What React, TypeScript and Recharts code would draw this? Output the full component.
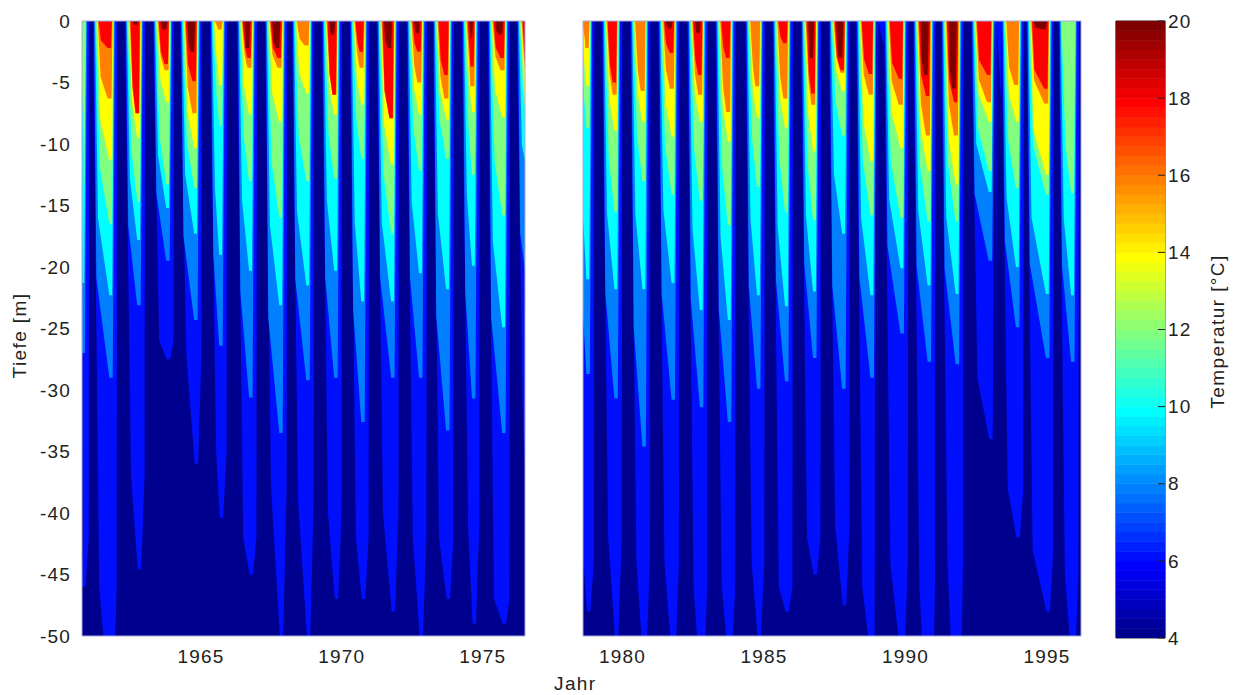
import { Area, Bar, BarChart, ComposedChart, ReferenceArea, XAxis, YAxis } from 'recharts'

// warm season start / end at the surface, one entry per summer
const riseA = [1960.6, 1961.17, 1962.3, 1963.3, 1964.26, 1965.32, 1966.28, 1967.27, 1968.23, 1969.29, 1970.28, 1971.24, 1972.3, 1973.23, 1974.26, 1975.18, 1976.21]
const fallA = [1960.96, 1961.95, 1962.94, 1963.97, 1964.96, 1965.85, 1966.91, 1967.98, 1968.94, 1969.93, 1970.89, 1971.95, 1972.94, 1973.9, 1974.82, 1975.89, 1976.92]
const riseB = [1978.4, 1979.27, 1980.27, 1981.26, 1982.29, 1983.28, 1984.34, 1985.3, 1986.3, 1987.29, 1988.25, 1989.24, 1990.27, 1991.26, 1992.32, 1993.39, 1994.27, 1995.41]
const fallB = [1978.92, 1979.91, 1980.9, 1981.93, 1982.93, 1983.92, 1984.95, 1985.94, 1986.93, 1987.96, 1988.96, 1990.02, 1990.98, 1991.97, 1993.14, 1994.1, 1995.16, 1996.05]

// deepest reach (m) of each temperature level per summer, 1960-1976
const shelf6A = [-42, -46, -37, -26, -27, -35, -42, -38, -39, -40, -42, -40, -42, -42, -41, -47, -33]
const tip6A = [-46, -56, -44.6, -27.5, -36, -40.4, -45, -50, -50, -47, -47, -48, -50, -47, -49, -49, -47]
const tip8A = [-27, -29, -23.1, -19.5, -24.3, -26.4, -30.6, -33.5, -29.2, -29, -32.6, -29, -29, -33.3, -30.7, -33.5, -24]
const tip10A = [-21.3, -22.3, -17.8, -15.2, -17.3, -19, -20.3, -23.1, -21.5, -20.3, -22.8, -22.8, -20.5, -21.8, -19.9, -24.9, -14]
const tip12A = [-13.3, -16.5, -14.7, -13.3, -13.6, -8.5, -13, -16, -13, -12.8, -11.2, -17.3, -12.2, -11.2, -12.5, -15.8, -9]
const tip14A = [0, -11.3, -9.5, -6.6, -10.3, -5.2, -7.6, -8.2, -5.9, -7.6, -6.8, -11.7, -7.6, -8, -7.4, -7.8, -8]
const tip16A = [0, -6.3, -7.5, -4, -7.5, -0.7, -3.8, -3.8, -2, -6, -3.8, -7.9, -5, -6.3, -5.3, -4, -5]
const tip18A = [0, -2.2, -7.5, -3.5, -4.9, 0, -3, -3, 0, -6, -2.5, -7.9, -2.5, -4.4, -3.7, -3, -4.4]
const tip20A = [0, 0, -0.3, -0.7, -2.5, 0, -2.2, -2.2, 0, -1.1, 0, -2.2, -1, 0, -1.4, -1.1, 0]

// same levels, 1978-1996
const shelf6B = [-44, -42, -44, -44, -46, -46, -44, -46, -42, -41, -46, -44, -46, -44, -29, -38, -43, -45]
const tip6B = [-48, -50, -52, -52, -54, -52, -50, -48, -45, -47.5, -52, -52, -60, -60, -34, -42, -48, -52]
const tip8B = [-28.7, -30.7, -34.6, -30.8, -31.4, -32.6, -29.9, -29.3, -27.4, -29.9, -29, -25.4, -27.7, -27.9, -19.5, -24.9, -27.4, -27.7]
const tip10B = [-21, -21.8, -21.8, -21.3, -23.5, -24.3, -22.3, -23.2, -22, -17.3, -22.3, -20.1, -21.5, -22.2, -13.9, -20, -22.2, -22.3]
const tip12B = [-8.7, -15.5, -13, -14.1, -14.6, -16.6, -13.5, -15.5, -16.2, -9.3, -15.8, -16, -16.3, -16.3, -12.2, -13.6, -14.1, -14]
const tip14B = [-5.3, -8.9, -8.2, -9.4, -8.2, -9.8, -7.9, -8.7, -10.6, -5.7, -11.4, -10.3, -12.2, -13.3, -8.2, -8.2, -12.5, 0]
const tip16B = [-2.2, -6, -5.7, -5.5, -6, -7.4, -5.3, -6.3, -6.8, -4.2, -6, -6.8, -9.3, -9.3, -6.6, -5.2, -6.7, 0]
const tip18B = [0, -5, 0, -2.6, -4.4, -3, 0, -1.8, -5.9, -4, -4.3, -4.7, -6.1, -6.6, -4.4, 0, -5.5, 0]
const tip20B = [0, 0, 0, -0.6, -1, 0, 0, 0, -3, -3, 0, 0, -4.4, -5.5, 0, 0, -0.7, 0]

// mild winters: the surface stays above the coldest level
const winterYears = [1988.98, 1989.0, 1989.22, 1989.24, 1993.16, 1993.18, 1993.37, 1993.39]
const winterDepths = [0, -2, -2, 0, 0, -6.3, -6.3, 0]

// level start after the rise, shoulder after the rise, tip start, tip end and end before the fall (years)
const edges8 = [0.04, 0.12, -0.2, -0.08, 0]
const edges10 = [0.07, 0.18, -0.2, -0.1, -0.03]
const edges12 = [0.1, 0.24, -0.2, -0.1, -0.05]
const edges14 = [0.14, 0.26, -0.2, -0.1, -0.07]
const edges16 = [0.17, 0.27, -0.26, -0.12, -0.09]
const edges18 = [0.2, 0.28, -0.26, -0.14, -0.11]
const edges20 = [0.26, 0.3, -0.32, -0.2, -0.16]

const depthTicks = [0, -5, -10, -15, -20, -25, -30, -35, -40, -45, -50]
const yearTicksA = [1965, 1970, 1975]
const yearTicksB = [1980, 1985, 1990, 1995]
const tempTicks = [4, 6, 8, 10, 12, 14, 16, 18, 20]

const ramp = ['10', '20', '30', '40', '50', '60', '70', '80', '8f', '9f', 'af', 'bf', 'cf', 'df', 'ef', 'ff']
const down = [...ramp].reverse()
const jet = [
  ...ramp.slice(8).map(b => `#0000${b}`),
  ...ramp.map(g => `#00${g}ff`),
  ...ramp.map((r, i) => `#${r}ff${down[i + 1] ?? '00'}`),
  ...ramp.map((_, i) => `#ff${down[i + 1] ?? '00'}00`),
  ...down.slice(1, 9).map(r => `#${r}0000`),
]

const NAVY = '#00008f'
const FONT = '"Liberation Sans", Arial, sans-serif'
const TEXT = '#222'
const tickStyle = { fill: TEXT, fontSize: 19, fontFamily: FONT, letterSpacing: 1.2 }
const labelStyle = { fill: TEXT, fontSize: 19, fontFamily: FONT, letterSpacing: 1.4, textAnchor: 'middle' }

function wedges(rise: number[], fall: number[], tips: number[], edges: number[]) {
  return tips.flatMap((depth, i) => {
    if (depth === 0) return []
    const start = rise[i] + edges[0]
    const shoulder = rise[i] + edges[1]
    const tipA = Math.max(shoulder + 0.01, fall[i] + edges[2])
    const tipB = Math.max(tipA + 0.01, fall[i] + edges[3])
    return [
      { year: start, depth: 0 },
      { year: shoulder, depth: depth * 0.72 },
      { year: tipA, depth },
      { year: tipB, depth },
      { year: Math.max(tipB + 0.01, fall[i] + edges[4]), depth: 0 },
    ]
  })
}

// the 6 degree level has a wide body (shelf) and a thin tail below it
function bodyWedges(rise: number[], fall: number[], shelf: number[], tips: number[]) {
  return tips.flatMap((depth, i) => [
    { year: rise[i], depth: 0 },
    { year: rise[i] + 0.22, depth: shelf[i] },
    { year: fall[i] - 0.18, depth },
    { year: fall[i] - 0.06, depth },
    { year: fall[i] + 0.06, depth: shelf[i] },
    { year: fall[i] + 0.08, depth: 0 },
  ])
}

function HeatPanel({ left, width, domain, ticks, showDepth, levels }: any) {
  return (
    <div style={{ position: 'absolute', left: 0, top: 0 }}>
      <ComposedChart width={left + width + 10} height={695} margin={{ top: 21, right: 10, bottom: 29, left: showDepth ? 0 : left }}>
        <XAxis
          xAxisId={0}
          type="number"
          dataKey="year"
          domain={domain}
          ticks={ticks}
          allowDataOverflow
          height={30}
          tickLine={false}
          axisLine={false}
          tickMargin={8}
          tick={tickStyle}
        />
        <YAxis
          yAxisId={0}
          type="number"
          domain={[-50, 0]}
          ticks={depthTicks}
          allowDataOverflow
          hide={!showDepth}
          width={showDepth ? left : 0}
          tickLine={false}
          axisLine={false}
          tickMargin={5}
          interval={0}
          tick={tickStyle}
          label={showDepth ? { value: 'Tiefe [m]', angle: -90, position: 'insideLeft', offset: 19, dy: 7, style: labelStyle } : undefined}
        />
        <Area
          data={[{ year: domain[0], depth: -50 }, { year: domain[1], depth: -50 }]}
          dataKey="depth"
          baseValue={0}
          stroke="none"
          fill={NAVY}
          fillOpacity={1}
          dot={false}
          activeDot={false}
          isAnimationActive={false}
        />
        {levels.map((l: any) => (
          <Area
            key={l.fill}
            data={l.points}
            dataKey="depth"
            baseValue={0}
            stroke="none"
            fill={l.fill}
            fillOpacity={1}
            dot={false}
            activeDot={false}
            isAnimationActive={false}
          />
        ))}
        <ReferenceArea y1={-50} y2={0} fill="none" stroke="#a8a8dc" strokeWidth={1} />
      </ComposedChart>
    </div>
  )
}

const winterPoints = winterYears.map((year, i) => ({ year, depth: winterDepths[i] }))

const levelsA = [
  { fill: '#0010ff', points: bodyWedges(riseA, fallA, shelf6A, tip6A) },
  { fill: '#0080ff', points: wedges(riseA, fallA, tip8A, edges8) },
  { fill: '#00ffff', points: wedges(riseA, fallA, tip10A, edges10) },
  { fill: '#80ff80', points: wedges(riseA, fallA, tip12A, edges12) },
  { fill: '#ffff00', points: wedges(riseA, fallA, tip14A, edges14) },
  { fill: '#ff8000', points: wedges(riseA, fallA, tip16A, edges16) },
  { fill: '#ff0000', points: wedges(riseA, fallA, tip18A, edges18) },
  { fill: '#800000', points: wedges(riseA, fallA, tip20A, edges20) },
]
const levelsB = [
  { fill: '#0010ff', points: [...bodyWedges(riseB, fallB, shelf6B, tip6B), ...winterPoints].sort((a, b) => a.year - b.year) },
  { fill: '#0080ff', points: wedges(riseB, fallB, tip8B, edges8) },
  { fill: '#00ffff', points: wedges(riseB, fallB, tip10B, edges10) },
  { fill: '#80ff80', points: wedges(riseB, fallB, tip12B, edges12) },
  { fill: '#ffff00', points: wedges(riseB, fallB, tip14B, edges14) },
  { fill: '#ff8000', points: wedges(riseB, fallB, tip16B, edges16) },
  { fill: '#ff0000', points: wedges(riseB, fallB, tip18B, edges18) },
  { fill: '#800000', points: wedges(riseB, fallB, tip20B, edges20) },
]

const colorRow: Record<string, number | string> = { name: 'T', base: 4 }
jet.forEach((_, i) => { colorRow[`c${i}`] = 0.25 })

function ColorBar() {
  return (
    <div style={{ position: 'absolute', left: 1100, top: 0 }}>
      <BarChart width={144} height={695} data={[colorRow]} margin={{ top: 21, right: 0, bottom: 57, left: 16 }} barCategoryGap={0}>
        <XAxis dataKey="name" hide />
        <YAxis yAxisId="l" orientation="left" width={0} domain={[4, 20]} ticks={tempTicks} allowDataOverflow interval={0} tickSize={-7} tick={false} axisLine={false} tickLine={{ stroke: '#222' }} />
        <YAxis
          yAxisId="r"
          orientation="right"
          width={79}
          domain={[4, 20]}
          ticks={tempTicks}
          allowDataOverflow
          interval={0}
          tickSize={-7}
          tickMargin={10}
          axisLine={false}
          tickLine={{ stroke: '#222' }}
          tick={{ ...tickStyle, textAnchor: 'start' }}
          label={{ value: 'Temperatur [°C]', angle: -90, position: 'insideRight', offset: 27, dy: 2, style: labelStyle }}
        />
        <Bar yAxisId="r" dataKey="base" stackId="t" fill={jet[0]} isAnimationActive={false} />
        {jet.map((color, i) => (
          <Bar key={i} yAxisId="r" dataKey={`c${i}`} stackId="t" fill={color} stroke={color} strokeWidth={0.6} isAnimationActive={false} />
        ))}
        <ReferenceArea yAxisId="r" y1={4} y2={20} fill="none" stroke="#222" strokeWidth={1} />
      </BarChart>
    </div>
  )
}

export default function App() {
  return (
    <div style={{ position: 'absolute', left: 0, top: 0, width: 1244, height: 695, background: '#fff', overflow: 'hidden' }}>
      <HeatPanel left={82} width={443} domain={[1960.78, 1976.5]} ticks={yearTicksA} showDepth levels={levelsA} />
      <HeatPanel left={583} width={498} domain={[1978.6, 1996.2]} ticks={yearTicksB} showDepth={false} levels={levelsB} />
      <ColorBar />
      <div style={{ position: 'absolute', left: 554, top: 673, fontFamily: FONT, fontSize: 19, letterSpacing: 1.4, color: TEXT }}>Jahr</div>
    </div>
  )
}
